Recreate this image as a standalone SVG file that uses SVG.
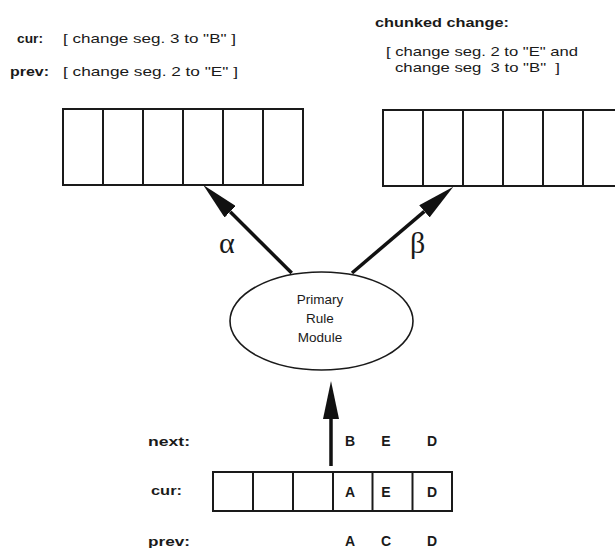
<svg xmlns="http://www.w3.org/2000/svg" width="615" height="548" viewBox="0 0 615 548">
  <style>
    .lbl { font-family: "Liberation Sans", Arial, sans-serif; font-weight: bold; font-size: 13px; fill: #1a1a1a; }
    .txt { font-family: "Liberation Sans", Arial, sans-serif; font-size: 13px; fill: #1a1a1a; }
    .mod { font-family: "Liberation Sans", Arial, sans-serif; font-size: 13.5px; fill: #1a1a1a; text-anchor: middle; }
    .sym { font-family: "Liberation Serif", "Times New Roman", serif; font-size: 30px; fill: #1a1a1a; }
    .cell { font-family: "Liberation Sans", Arial, sans-serif; font-weight: bold; font-size: 14px; fill: #1a1a1a; text-anchor: middle; }
    .box { fill: #fff; stroke: #1a1a1a; stroke-width: 2; }
    .div { stroke: #1a1a1a; stroke-width: 2; }
    .arrow { stroke: #111; stroke-width: 3.5; fill: none; marker-end: url(#head); }
  </style>
  <defs>
    <marker id="head" viewBox="0 -8 38 16" refX="0" refY="0" markerWidth="38" markerHeight="16" markerUnits="userSpaceOnUse" orient="auto">
      <path d="M0,-8 L38,0 L0,8 Z" fill="#111"/>
    </marker>
  </defs>
  <rect width="615" height="548" fill="#fff"/>

  <!-- current / previous change labels -->
  <g id="change-labels">
    <text class="lbl" x="17" y="43" textLength="26" lengthAdjust="spacingAndGlyphs">cur:</text>
    <text class="txt" x="63" y="43" textLength="173" lengthAdjust="spacingAndGlyphs">[ change seg. 3 to "B" ]</text>
    <text class="lbl" x="10" y="76" textLength="39" lengthAdjust="spacingAndGlyphs">prev:</text>
    <text class="txt" x="63" y="76" textLength="175" lengthAdjust="spacingAndGlyphs">[ change seg. 2 to "E" ]</text>
  </g>

  <g id="chunked-label">
    <text class="lbl" x="375" y="27" textLength="134" lengthAdjust="spacingAndGlyphs">chunked change:</text>
    <text class="txt" x="386" y="56" textLength="192" lengthAdjust="spacingAndGlyphs">[ change seg. 2 to "E" and</text>
    <text class="txt" x="395" y="72" textLength="165" lengthAdjust="spacingAndGlyphs" xml:space="preserve">change seg  3 to "B"  ]</text>
  </g>

  <!-- left output array -->
  <g id="array-alpha">
    <rect class="box" x="63" y="109" width="240" height="76"/>
    <line class="div" x1="103" y1="109" x2="103" y2="185"/>
    <line class="div" x1="143" y1="109" x2="143" y2="185"/>
    <line class="div" x1="183" y1="109" x2="183" y2="185"/>
    <line class="div" x1="223" y1="109" x2="223" y2="185"/>
    <line class="div" x1="263" y1="109" x2="263" y2="185"/>
  </g>

  <!-- right output array -->
  <g id="array-beta">
    <rect class="box" x="383" y="110" width="240" height="76"/>
    <line class="div" x1="423" y1="110" x2="423" y2="186"/>
    <line class="div" x1="463" y1="110" x2="463" y2="186"/>
    <line class="div" x1="503" y1="110" x2="503" y2="186"/>
    <line class="div" x1="543" y1="110" x2="543" y2="186"/>
    <line class="div" x1="583" y1="110" x2="583" y2="186"/>
  </g>

  <!-- rule module -->
  <g id="primary-rule-module">
    <ellipse cx="321.5" cy="321" rx="91.5" ry="49" fill="#fff" stroke="#1a1a1a" stroke-width="1.6"/>
    <text class="mod" x="320" y="304">Primary</text>
    <text class="mod" x="320" y="323">Rule</text>
    <text class="mod" x="320" y="342">Module</text>
  </g>

  <!-- input array -->
  <g id="input-array">
    <text class="lbl" x="148" y="446" textLength="42" lengthAdjust="spacingAndGlyphs">next:</text>
    <text class="lbl" x="151" y="495" textLength="31" lengthAdjust="spacingAndGlyphs">cur:</text>
    <text class="lbl" x="148" y="546" textLength="42" lengthAdjust="spacingAndGlyphs">prev:</text>
    <rect class="box" x="213" y="472" width="239" height="39"/>
    <line class="div" x1="253" y1="472" x2="253" y2="511"/>
    <line class="div" x1="293" y1="472" x2="293" y2="511"/>
    <line class="div" x1="333" y1="472" x2="333" y2="511"/>
    <line class="div" x1="372.5" y1="472" x2="372.5" y2="511"/>
    <line class="div" x1="412.5" y1="472" x2="412.5" y2="511"/>
    <text class="cell" x="350" y="446">B</text>
    <text class="cell" x="386" y="446">E</text>
    <text class="cell" x="432" y="446">D</text>
    <text class="cell" x="350" y="497">A</text>
    <text class="cell" x="386" y="497">E</text>
    <text class="cell" x="432" y="497">D</text>
    <text class="cell" x="350" y="546">A</text>
    <text class="cell" x="386" y="546">C</text>
    <text class="cell" x="432" y="546">D</text>
  </g>

  <!-- connectors -->
  <g id="connectors">
    <line class="arrow" x1="291.7" y1="273" x2="230.2" y2="211.8"/>
    <line class="arrow" x1="352" y1="273" x2="424.4" y2="211.3"/>
    <line class="arrow" x1="331" y1="466" x2="331" y2="419"/>
    <text class="sym" x="219" y="253">α</text>
    <text class="sym" x="410" y="253">β</text>
  </g>
</svg>
